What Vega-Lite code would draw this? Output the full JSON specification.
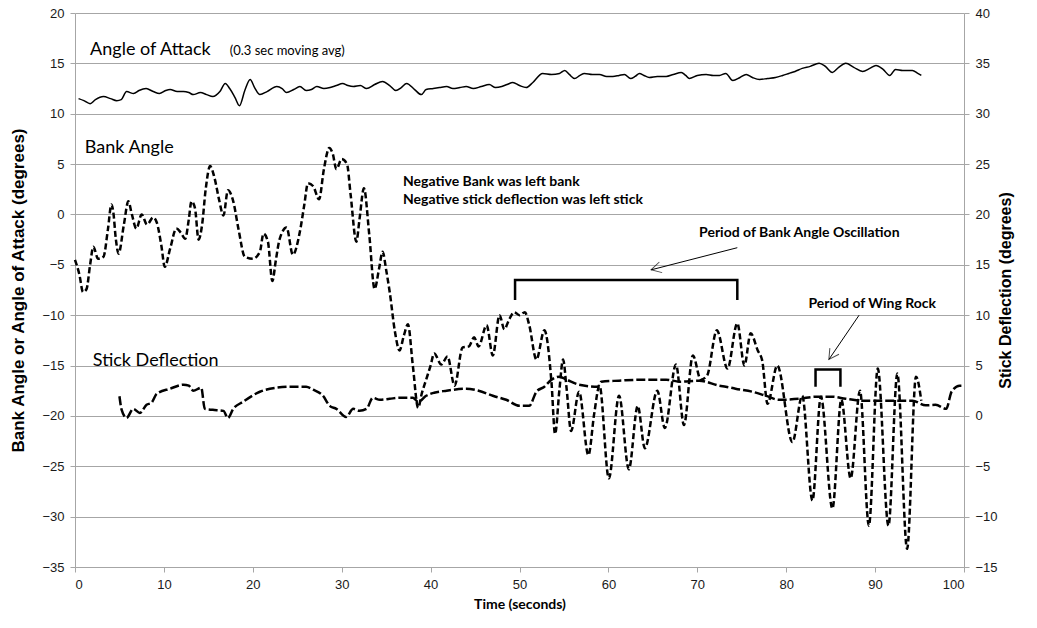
{
  "$schema": "https://vega.github.io/schema/vega-lite/v6.json",
  "width": 889,
  "height": 554,
  "autosize": {"type": "none"},
  "padding": {"left": 75, "top": 13, "right": 73, "bottom": 61},
  "background": "white",
  "config": {
    "view": {"stroke": null},
    "axis": {
      "domainColor": "#a6a6a6",
      "tickColor": "#a6a6a6",
      "gridColor": "#a6a6a6",
      "gridWidth": 1,
      "tickSize": 5,
      "labelFont": "Liberation Sans Narrow, Arial Narrow, Liberation Sans",
      "labelFontSize": 13,
      "labelColor": "#1a1a1a",
      "labelPadding": 6,
      "titleFont": "Liberation Sans",
      "titleFontWeight": "bold",
      "titleColor": "#000000"
    }
  },
  "datasets": {
    "flight": [
      {"series": "aoa", "t": 0.4, "v": 11.5}, {"series": "aoa", "t": 1.0, "v": 11.3}, {"series": "aoa", "t": 1.7, "v": 11.0}, {"series": "aoa", "t": 2.3, "v": 11.4},
      {"series": "aoa", "t": 3.2, "v": 11.7}, {"series": "aoa", "t": 4.0, "v": 11.5}, {"series": "aoa", "t": 4.7, "v": 11.3}, {"series": "aoa", "t": 5.2, "v": 11.4},
      {"series": "aoa", "t": 5.8, "v": 12.2}, {"series": "aoa", "t": 6.6, "v": 12.0}, {"series": "aoa", "t": 7.2, "v": 12.3}, {"series": "aoa", "t": 8.0, "v": 12.5},
      {"series": "aoa", "t": 8.8, "v": 12.2}, {"series": "aoa", "t": 9.5, "v": 12.0}, {"series": "aoa", "t": 10.2, "v": 12.3}, {"series": "aoa", "t": 10.7, "v": 12.4},
      {"series": "aoa", "t": 11.5, "v": 12.2}, {"series": "aoa", "t": 12.2, "v": 12.2}, {"series": "aoa", "t": 12.8, "v": 12.1}, {"series": "aoa", "t": 13.3, "v": 11.9},
      {"series": "aoa", "t": 14.1, "v": 12.1}, {"series": "aoa", "t": 14.8, "v": 11.9}, {"series": "aoa", "t": 15.5, "v": 11.7}, {"series": "aoa", "t": 16.3, "v": 12.2},
      {"series": "aoa", "t": 16.9, "v": 13.0}, {"series": "aoa", "t": 17.4, "v": 12.5}, {"series": "aoa", "t": 18.0, "v": 11.6}, {"series": "aoa", "t": 18.5, "v": 10.8},
      {"series": "aoa", "t": 19.1, "v": 12.3}, {"series": "aoa", "t": 19.7, "v": 13.4}, {"series": "aoa", "t": 20.2, "v": 12.6}, {"series": "aoa", "t": 20.8, "v": 11.9},
      {"series": "aoa", "t": 21.6, "v": 12.2}, {"series": "aoa", "t": 22.7, "v": 12.7}, {"series": "aoa", "t": 23.3, "v": 12.5}, {"series": "aoa", "t": 23.8, "v": 12.1},
      {"series": "aoa", "t": 24.6, "v": 12.4}, {"series": "aoa", "t": 25.3, "v": 12.7}, {"series": "aoa", "t": 26.0, "v": 12.3}, {"series": "aoa", "t": 26.6, "v": 12.4},
      {"series": "aoa", "t": 27.2, "v": 12.7}, {"series": "aoa", "t": 28.0, "v": 12.5}, {"series": "aoa", "t": 28.7, "v": 12.6}, {"series": "aoa", "t": 29.4, "v": 12.8},
      {"series": "aoa", "t": 30.1, "v": 13.0}, {"series": "aoa", "t": 30.7, "v": 12.8}, {"series": "aoa", "t": 31.3, "v": 12.7}, {"series": "aoa", "t": 32.1, "v": 12.8},
      {"series": "aoa", "t": 32.8, "v": 12.5}, {"series": "aoa", "t": 33.7, "v": 12.9}, {"series": "aoa", "t": 34.6, "v": 13.2}, {"series": "aoa", "t": 35.4, "v": 12.8},
      {"series": "aoa", "t": 36.1, "v": 12.3}, {"series": "aoa", "t": 36.7, "v": 12.6}, {"series": "aoa", "t": 37.3, "v": 13.0}, {"series": "aoa", "t": 38.2, "v": 12.4},
      {"series": "aoa", "t": 38.95, "v": 11.9}, {"series": "aoa", "t": 39.5, "v": 12.4}, {"series": "aoa", "t": 40.3, "v": 12.5}, {"series": "aoa", "t": 41.0, "v": 12.6},
      {"series": "aoa", "t": 41.8, "v": 12.7}, {"series": "aoa", "t": 42.5, "v": 12.5}, {"series": "aoa", "t": 43.3, "v": 12.6}, {"series": "aoa", "t": 44.0, "v": 12.7},
      {"series": "aoa", "t": 44.8, "v": 12.5}, {"series": "aoa", "t": 45.7, "v": 12.7}, {"series": "aoa", "t": 46.6, "v": 12.9}, {"series": "aoa", "t": 47.3, "v": 12.6},
      {"series": "aoa", "t": 48.0, "v": 12.7}, {"series": "aoa", "t": 48.6, "v": 12.9}, {"series": "aoa", "t": 49.25, "v": 13.1}, {"series": "aoa", "t": 50.0, "v": 12.8},
      {"series": "aoa", "t": 50.75, "v": 12.6}, {"series": "aoa", "t": 51.5, "v": 13.1}, {"series": "aoa", "t": 52.6, "v": 14.0}, {"series": "aoa", "t": 53.6, "v": 13.9},
      {"series": "aoa", "t": 54.5, "v": 14.0}, {"series": "aoa", "t": 55.1, "v": 14.3}, {"series": "aoa", "t": 55.6, "v": 13.9}, {"series": "aoa", "t": 56.2, "v": 13.5},
      {"series": "aoa", "t": 56.8, "v": 13.8}, {"series": "aoa", "t": 57.3, "v": 14.0}, {"series": "aoa", "t": 58.2, "v": 13.9}, {"series": "aoa", "t": 59.0, "v": 13.9},
      {"series": "aoa", "t": 59.8, "v": 13.7}, {"series": "aoa", "t": 60.5, "v": 13.7}, {"series": "aoa", "t": 61.2, "v": 13.8}, {"series": "aoa", "t": 61.8, "v": 13.9},
      {"series": "aoa", "t": 62.5, "v": 13.5}, {"series": "aoa", "t": 63.0, "v": 13.7}, {"series": "aoa", "t": 63.5, "v": 14.0}, {"series": "aoa", "t": 64.0, "v": 13.8},
      {"series": "aoa", "t": 64.6, "v": 13.6}, {"series": "aoa", "t": 65.5, "v": 13.7}, {"series": "aoa", "t": 66.5, "v": 13.7}, {"series": "aoa", "t": 67.3, "v": 13.9},
      {"series": "aoa", "t": 68.2, "v": 14.1}, {"series": "aoa", "t": 68.7, "v": 13.8}, {"series": "aoa", "t": 69.1, "v": 13.5}, {"series": "aoa", "t": 70.0, "v": 13.8},
      {"series": "aoa", "t": 71.0, "v": 13.9}, {"series": "aoa", "t": 71.8, "v": 13.8}, {"series": "aoa", "t": 72.5, "v": 13.8}, {"series": "aoa", "t": 73.2, "v": 14.0},
      {"series": "aoa", "t": 74.0, "v": 13.3}, {"series": "aoa", "t": 74.8, "v": 13.6}, {"series": "aoa", "t": 75.5, "v": 13.9}, {"series": "aoa", "t": 76.2, "v": 13.6},
      {"series": "aoa", "t": 77.0, "v": 13.4}, {"series": "aoa", "t": 77.9, "v": 13.5}, {"series": "aoa", "t": 78.8, "v": 13.6}, {"series": "aoa", "t": 79.6, "v": 13.8},
      {"series": "aoa", "t": 80.3, "v": 14.0}, {"series": "aoa", "t": 81.0, "v": 14.2}, {"series": "aoa", "t": 81.8, "v": 14.5}, {"series": "aoa", "t": 82.7, "v": 14.7},
      {"series": "aoa", "t": 83.7, "v": 15.0}, {"series": "aoa", "t": 84.4, "v": 14.7}, {"series": "aoa", "t": 85.2, "v": 14.1}, {"series": "aoa", "t": 85.9, "v": 14.6},
      {"series": "aoa", "t": 86.7, "v": 15.0}, {"series": "aoa", "t": 87.6, "v": 14.6}, {"series": "aoa", "t": 88.6, "v": 14.2}, {"series": "aoa", "t": 89.4, "v": 14.5},
      {"series": "aoa", "t": 90.1, "v": 14.8}, {"series": "aoa", "t": 90.9, "v": 14.4}, {"series": "aoa", "t": 91.65, "v": 13.8}, {"series": "aoa", "t": 92.3, "v": 14.4},
      {"series": "aoa", "t": 93.1, "v": 14.3}, {"series": "aoa", "t": 94.2, "v": 14.3}, {"series": "aoa", "t": 94.8, "v": 14.0}, {"series": "aoa", "t": 95.2, "v": 13.8},

      {"series": "bank", "t": 0.0, "v": -4.5}, {"series": "bank", "t": 0.5, "v": -6.0}, {"series": "bank", "t": 0.9, "v": -7.7}, {"series": "bank", "t": 1.3, "v": -7.4},
      {"series": "bank", "t": 1.7, "v": -5.0}, {"series": "bank", "t": 2.06, "v": -3.2}, {"series": "bank", "t": 2.6, "v": -4.4}, {"series": "bank", "t": 3.2, "v": -4.2},
      {"series": "bank", "t": 3.7, "v": -1.5}, {"series": "bank", "t": 4.1, "v": 1.0}, {"series": "bank", "t": 4.3, "v": 0.3}, {"series": "bank", "t": 4.6, "v": -2.5},
      {"series": "bank", "t": 4.9, "v": -3.9}, {"series": "bank", "t": 5.5, "v": -1.0}, {"series": "bank", "t": 6.0, "v": 1.3}, {"series": "bank", "t": 6.4, "v": 0.0},
      {"series": "bank", "t": 6.9, "v": -1.4}, {"series": "bank", "t": 7.5, "v": 0.0}, {"series": "bank", "t": 8.1, "v": -1.0}, {"series": "bank", "t": 8.8, "v": -0.3},
      {"series": "bank", "t": 9.2, "v": -0.8}, {"series": "bank", "t": 9.7, "v": -3.0}, {"series": "bank", "t": 10.1, "v": -5.2}, {"series": "bank", "t": 10.7, "v": -3.4},
      {"series": "bank", "t": 11.4, "v": -1.4}, {"series": "bank", "t": 11.9, "v": -1.8}, {"series": "bank", "t": 12.4, "v": -2.4}, {"series": "bank", "t": 12.8, "v": -0.5},
      {"series": "bank", "t": 13.1, "v": 1.3}, {"series": "bank", "t": 13.5, "v": 0.6}, {"series": "bank", "t": 13.9, "v": -2.5}, {"series": "bank", "t": 14.3, "v": -1.0},
      {"series": "bank", "t": 14.7, "v": 2.5}, {"series": "bank", "t": 15.2, "v": 4.8}, {"series": "bank", "t": 15.7, "v": 3.6}, {"series": "bank", "t": 16.2, "v": 1.5},
      {"series": "bank", "t": 16.7, "v": -0.1}, {"series": "bank", "t": 17.2, "v": 2.4}, {"series": "bank", "t": 17.8, "v": 1.3}, {"series": "bank", "t": 18.4, "v": -1.5},
      {"series": "bank", "t": 19.1, "v": -4.2}, {"series": "bank", "t": 20.0, "v": -4.4}, {"series": "bank", "t": 20.8, "v": -3.7}, {"series": "bank", "t": 21.2, "v": -1.9},
      {"series": "bank", "t": 21.7, "v": -2.7}, {"series": "bank", "t": 22.2, "v": -6.6}, {"series": "bank", "t": 22.6, "v": -4.5}, {"series": "bank", "t": 23.0, "v": -2.5},
      {"series": "bank", "t": 23.8, "v": -1.3}, {"series": "bank", "t": 24.5, "v": -4.0}, {"series": "bank", "t": 25.3, "v": -1.7}, {"series": "bank", "t": 25.8, "v": 1.0},
      {"series": "bank", "t": 26.2, "v": 3.1}, {"series": "bank", "t": 26.8, "v": 2.8}, {"series": "bank", "t": 27.45, "v": 1.5}, {"series": "bank", "t": 28.0, "v": 4.5},
      {"series": "bank", "t": 28.6, "v": 6.6}, {"series": "bank", "t": 29.0, "v": 6.0}, {"series": "bank", "t": 29.4, "v": 4.5}, {"series": "bank", "t": 30.0, "v": 5.5},
      {"series": "bank", "t": 30.6, "v": 5.0}, {"series": "bank", "t": 31.0, "v": 2.0}, {"series": "bank", "t": 31.65, "v": -2.7}, {"series": "bank", "t": 32.0, "v": -0.5},
      {"series": "bank", "t": 32.5, "v": 2.6}, {"series": "bank", "t": 33.1, "v": -2.0}, {"series": "bank", "t": 33.7, "v": -7.4}, {"series": "bank", "t": 34.2, "v": -5.4},
      {"series": "bank", "t": 34.6, "v": -3.7}, {"series": "bank", "t": 35.0, "v": -5.5}, {"series": "bank", "t": 35.4, "v": -7.7}, {"series": "bank", "t": 36.0, "v": -11.7},
      {"series": "bank", "t": 36.5, "v": -13.5}, {"series": "bank", "t": 37.0, "v": -12.0}, {"series": "bank", "t": 37.45, "v": -10.9}, {"series": "bank", "t": 38.0, "v": -15.0},
      {"series": "bank", "t": 38.6, "v": -19.2}, {"series": "bank", "t": 39.0, "v": -17.8}, {"series": "bank", "t": 39.5, "v": -16.4}, {"series": "bank", "t": 40.0, "v": -15.0},
      {"series": "bank", "t": 40.4, "v": -13.8}, {"series": "bank", "t": 41.2, "v": -14.9}, {"series": "bank", "t": 41.9, "v": -14.1}, {"series": "bank", "t": 42.7, "v": -17.0},
      {"series": "bank", "t": 43.6, "v": -13.2}, {"series": "bank", "t": 44.3, "v": -13.1}, {"series": "bank", "t": 44.9, "v": -12.2}, {"series": "bank", "t": 45.4, "v": -13.1},
      {"series": "bank", "t": 46.3, "v": -11.0}, {"series": "bank", "t": 47.0, "v": -14.0}, {"series": "bank", "t": 47.75, "v": -10.0}, {"series": "bank", "t": 48.3, "v": -11.4},
      {"series": "bank", "t": 48.8, "v": -10.5}, {"series": "bank", "t": 49.4, "v": -9.7}, {"series": "bank", "t": 50.0, "v": -10.0}, {"series": "bank", "t": 50.6, "v": -9.7},
      {"series": "bank", "t": 51.1, "v": -11.0}, {"series": "bank", "t": 51.9, "v": -14.4}, {"series": "bank", "t": 52.8, "v": -11.5}, {"series": "bank", "t": 53.6, "v": -16.7},
      {"series": "bank", "t": 54.0, "v": -21.8}, {"series": "bank", "t": 54.5, "v": -17.3}, {"series": "bank", "t": 54.9, "v": -14.4}, {"series": "bank", "t": 55.3, "v": -17.3},
      {"series": "bank", "t": 55.8, "v": -21.5}, {"series": "bank", "t": 56.7, "v": -17.6}, {"series": "bank", "t": 57.75, "v": -23.9}, {"series": "bank", "t": 58.4, "v": -19.8},
      {"series": "bank", "t": 59.0, "v": -17.0}, {"series": "bank", "t": 60.05, "v": -26.2}, {"series": "bank", "t": 61.2, "v": -18.0}, {"series": "bank", "t": 62.3, "v": -25.3},
      {"series": "bank", "t": 63.3, "v": -19.0}, {"series": "bank", "t": 64.1, "v": -23.2}, {"series": "bank", "t": 65.5, "v": -17.5}, {"series": "bank", "t": 66.35, "v": -21.2},
      {"series": "bank", "t": 67.6, "v": -14.9}, {"series": "bank", "t": 68.5, "v": -20.9}, {"series": "bank", "t": 69.5, "v": -14.0}, {"series": "bank", "t": 70.4, "v": -16.4},
      {"series": "bank", "t": 71.1, "v": -16.0}, {"series": "bank", "t": 72.2, "v": -11.5}, {"series": "bank", "t": 73.4, "v": -15.3}, {"series": "bank", "t": 74.5, "v": -10.8},
      {"series": "bank", "t": 75.3, "v": -15.0}, {"series": "bank", "t": 76.0, "v": -11.8}, {"series": "bank", "t": 76.8, "v": -13.5}, {"series": "bank", "t": 77.3, "v": -14.5},
      {"series": "bank", "t": 77.9, "v": -18.8}, {"series": "bank", "t": 79.0, "v": -15.0}, {"series": "bank", "t": 80.7, "v": -22.6}, {"series": "bank", "t": 81.8, "v": -18.0},
      {"series": "bank", "t": 82.95, "v": -28.4}, {"series": "bank", "t": 83.9, "v": -18.1}, {"series": "bank", "t": 85.2, "v": -29.2}, {"series": "bank", "t": 86.2, "v": -18.4},
      {"series": "bank", "t": 87.25, "v": -26.2}, {"series": "bank", "t": 88.3, "v": -17.5}, {"series": "bank", "t": 89.3, "v": -30.9}, {"series": "bank", "t": 90.3, "v": -15.3},
      {"series": "bank", "t": 91.5, "v": -30.9}, {"series": "bank", "t": 92.5, "v": -15.8}, {"series": "bank", "t": 93.6, "v": -33.2}, {"series": "bank", "t": 94.6, "v": -16.1},
      {"series": "bank", "t": 95.2, "v": -18.5}
    ],
    "stick": [
      {"t": 5.0, "d": 1.95}, {"t": 5.25, "d": 0.6}, {"t": 5.8, "d": -0.2}, {"t": 6.55, "d": 0.7}, {"t": 7.3, "d": 0.3}, {"t": 8.05, "d": 1.1},
      {"t": 8.6, "d": 1.3}, {"t": 9.2, "d": 2.2}, {"t": 10.7, "d": 2.7}, {"t": 12.2, "d": 3.1}, {"t": 12.8, "d": 3.0}, {"t": 13.3, "d": 2.5},
      {"t": 14.2, "d": 2.8}, {"t": 14.6, "d": 0.7}, {"t": 15.5, "d": 0.6}, {"t": 16.7, "d": 0.5}, {"t": 17.2, "d": -0.2}, {"t": 17.8, "d": 0.7},
      {"t": 18.9, "d": 1.4}, {"t": 20.8, "d": 2.4}, {"t": 22.7, "d": 2.8}, {"t": 24.5, "d": 2.9}, {"t": 26.0, "d": 2.9}, {"t": 26.8, "d": 2.6},
      {"t": 27.9, "d": 2.0}, {"t": 28.65, "d": 1.0}, {"t": 29.4, "d": 0.7}, {"t": 30.5, "d": -0.1}, {"t": 31.3, "d": 0.7}, {"t": 32.0, "d": 0.5},
      {"t": 32.8, "d": 0.7}, {"t": 33.5, "d": 1.8}, {"t": 34.3, "d": 1.6}, {"t": 35.4, "d": 1.7}, {"t": 36.5, "d": 1.8}, {"t": 38.0, "d": 1.8},
      {"t": 38.6, "d": 1.4}, {"t": 39.5, "d": 2.0}, {"t": 40.4, "d": 2.3}, {"t": 41.8, "d": 2.5}, {"t": 44.0, "d": 2.7}, {"t": 45.4, "d": 2.5},
      {"t": 47.0, "d": 2.0}, {"t": 48.5, "d": 1.6}, {"t": 50.0, "d": 1.0}, {"t": 51.1, "d": 1.0}, {"t": 51.9, "d": 2.4}, {"t": 52.8, "d": 2.9},
      {"t": 53.6, "d": 3.6}, {"t": 54.5, "d": 3.9}, {"t": 55.3, "d": 3.6}, {"t": 56.7, "d": 3.1}, {"t": 58.8, "d": 2.9}, {"t": 59.2, "d": 3.4},
      {"t": 61.2, "d": 3.5}, {"t": 63.9, "d": 3.6}, {"t": 66.5, "d": 3.6}, {"t": 68.0, "d": 3.4}, {"t": 70.2, "d": 3.5}, {"t": 72.5, "d": 3.0},
      {"t": 73.2, "d": 2.9}, {"t": 74.3, "d": 2.7}, {"t": 76.2, "d": 2.4}, {"t": 77.7, "d": 2.0}, {"t": 79.2, "d": 1.6}, {"t": 81.5, "d": 1.7},
      {"t": 83.3, "d": 1.9}, {"t": 85.2, "d": 1.9}, {"t": 86.7, "d": 1.7}, {"t": 88.9, "d": 1.5}, {"t": 91.9, "d": 1.5}, {"t": 94.2, "d": 1.5},
      {"t": 95.7, "d": 1.05}, {"t": 96.8, "d": 1.1}, {"t": 98.0, "d": 0.7}, {"t": 98.6, "d": 2.4}, {"t": 99.5, "d": 3.0}, {"t": 99.9, "d": 3.0}
    ],
    "labels": [
      {"kind": "big", "text": "Angle of Attack", "t": 1.7, "v": 15.8},
      {"kind": "small", "text": "(0.3 sec moving avg)", "t": 17.4, "v": 15.8},
      {"kind": "big", "text": "Bank Angle", "t": 1.1, "v": 6.1},
      {"kind": "big", "text": "Stick Deflection", "t": 2.0, "v": -15.0},
      {"kind": "note", "text": "Negative Bank  was left bank", "t": 36.9, "v": 2.8},
      {"kind": "note", "text": "Negative stick  deflection was left stick", "t": 36.9, "v": 1.0},
      {"kind": "note", "text": "Period of Bank Angle  Oscillation", "t": 70.2, "v": -2.2},
      {"kind": "note", "text": "Period of Wing Rock", "t": 82.5, "v": -9.3}
    ],
    "brackets": [
      {"bracket": "oscillation", "i": 1, "t": 49.5, "v": -8.5},
      {"bracket": "oscillation", "i": 2, "t": 49.5, "v": -6.5},
      {"bracket": "oscillation", "i": 3, "t": 74.5, "v": -6.5},
      {"bracket": "oscillation", "i": 4, "t": 74.5, "v": -8.5},
      {"bracket": "wing rock", "i": 1, "t": 83.3, "v": -17.1},
      {"bracket": "wing rock", "i": 2, "t": 83.3, "v": -15.4},
      {"bracket": "wing rock", "i": 3, "t": 86.1, "v": -15.4},
      {"bracket": "wing rock", "i": 4, "t": 86.1, "v": -17.1}
    ],
    "arrows": [
      {"arrow": "oscillation", "t2": 74.5, "v2": -3.3, "t": 64.8, "v": -5.5, "heading": 165.3},
      {"arrow": "wing rock", "t2": 88.2, "v2": -10.0, "t": 84.8, "v": -14.4, "heading": 123.7}
    ]
  },
  "encoding": {
    "x": {
      "field": "t",
      "type": "quantitative",
      "scale": {"domain": [0, 100], "nice": false, "zero": false},
      "axis": {
        "values": [0, 10, 20, 30, 40, 50, 60, 70, 80, 90, 100],
        "grid": false,
        "title": "Time (seconds)",
        "titleFont": "Lato",
        "titleFontSize": 14,
        "titlePadding": 6
      }
    }
  },
  "layer": [
    {
      "encoding": {
        "y": {
          "field": "v",
          "type": "quantitative",
          "scale": {"domain": [-35, 20], "nice": false, "zero": false},
          "axis": {
            "orient": "left",
            "values": [-35, -30, -25, -20, -15, -10, -5, 0, 5, 10, 15, 20],
            "grid": true,
            "title": "Bank Angle or Angle of Attack (degrees)",
            "titleFontSize": 17,
            "titlePadding": 14
          }
        }
      },
      "layer": [
        {
          "data": {"name": "flight"},
          "transform": [{"filter": "datum.series === 'aoa'"}],
          "mark": {"type": "line", "color": "#000000", "strokeWidth": 1.5, "interpolate": "monotone"}
        },
        {
          "data": {"name": "flight"},
          "transform": [{"filter": "datum.series === 'bank'"}],
          "mark": {"type": "line", "color": "#000000", "strokeWidth": 2.5, "strokeDash": [6, 3], "interpolate": "monotone"}
        },
        {
          "data": {"name": "brackets"},
          "mark": {"type": "line", "color": "#000000", "strokeWidth": 2.5},
          "encoding": {
            "detail": {"field": "bracket", "type": "nominal"},
            "order": {"field": "i", "type": "quantitative"}
          }
        },
        {
          "data": {"name": "arrows"},
          "mark": {"type": "rule", "color": "#000000", "strokeWidth": 1},
          "encoding": {
            "x2": {"field": "t2"},
            "y2": {"field": "v2"}
          }
        },
        {
          "data": {"name": "arrows"},
          "mark": {"type": "point", "shape": "M-1,-0.55L0,0L-1,0.55", "filled": false, "color": "#000000", "strokeWidth": 1, "size": 400},
          "encoding": {
            "angle": {"field": "heading", "type": "quantitative", "scale": null}
          }
        },
        {
          "data": {"name": "labels"},
          "transform": [{"filter": "datum.kind === 'big'"}],
          "mark": {"type": "text", "align": "left", "baseline": "alphabetic", "font": "Lato", "fontSize": 18, "color": "#000000"},
          "encoding": {"text": {"field": "text"}}
        },
        {
          "data": {"name": "labels"},
          "transform": [{"filter": "datum.kind === 'small'"}],
          "mark": {"type": "text", "align": "left", "baseline": "alphabetic", "font": "Lato", "fontSize": 13, "color": "#000000"},
          "encoding": {"text": {"field": "text"}}
        },
        {
          "data": {"name": "labels"},
          "transform": [{"filter": "datum.kind === 'note'"}],
          "mark": {"type": "text", "align": "left", "baseline": "alphabetic", "font": "Lato", "fontSize": 14, "fontWeight": "bold", "color": "#000000"},
          "encoding": {"text": {"field": "text"}}
        }
      ]
    },
    {
      "data": {"name": "stick"},
      "mark": {"type": "line", "color": "#000000", "strokeWidth": 2.5, "strokeDash": [9, 3], "interpolate": "monotone"},
      "encoding": {
        "y": {
          "field": "d",
          "type": "quantitative",
          "scale": {"domain": [-15, 40], "nice": false, "zero": false},
          "axis": {
            "orient": "right",
            "values": [-15, -10, -5, 0, 5, 10, 15, 20, 25, 30, 35, 40],
            "grid": false,
            "title": "Stick Deflection (degrees)",
            "titleFontSize": 16,
            "titleAngle": -90,
            "titlePadding": 16
          }
        }
      }
    }
  ],
  "resolve": {"scale": {"y": "independent"}}
}
